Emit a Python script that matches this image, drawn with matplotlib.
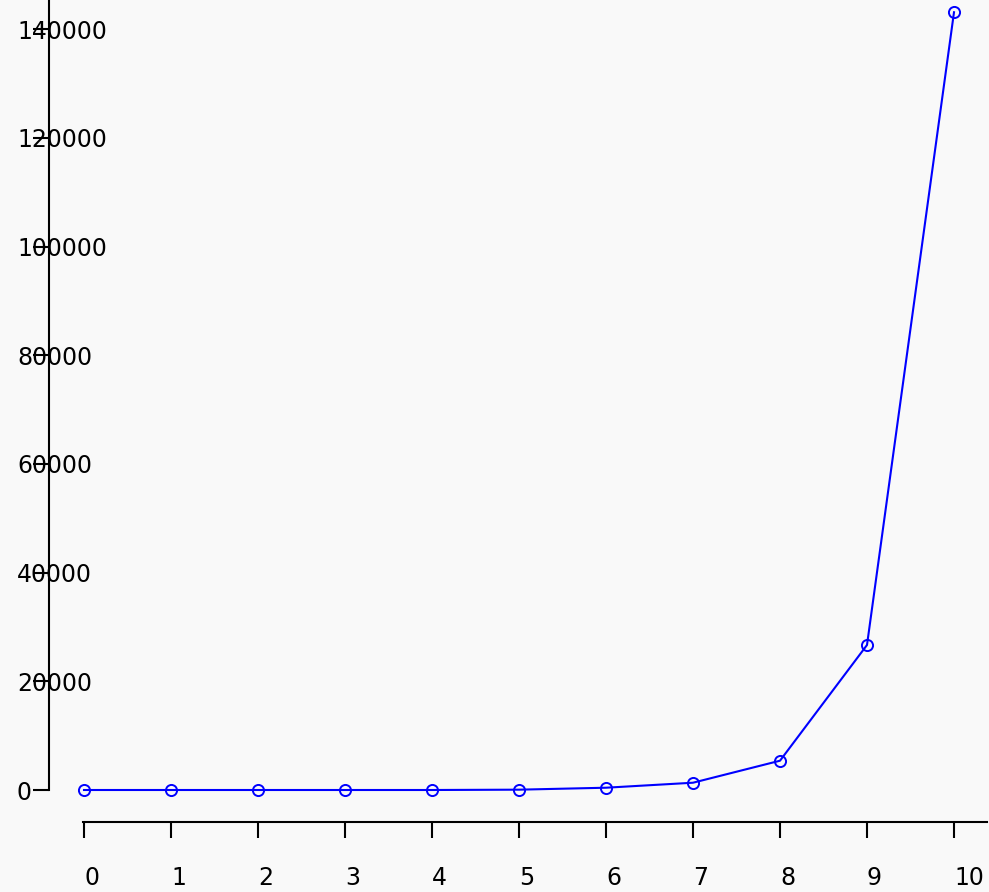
import matplotlib
matplotlib.use("Agg")
import matplotlib.pyplot as plt

plt.rcParams["font.family"] = ["DejaVu Sans"]

# Series values
x_values = [0, 1, 2, 3, 4, 5, 6, 7, 8, 9, 10]
y_values = [0, 0, 0, 0, 0, 60, 420, 1340, 5390, 26680, 143100]

x_ticks = [0, 1, 2, 3, 4, 5, 6, 7, 8, 9, 10]
x_tick_labels = ["0", "1", "2", "3", "4", "5", "6", "7", "8", "9", "10"]
y_ticks = [0, 20000, 40000, 60000, 80000, 100000, 120000, 140000]
y_tick_labels = ["0", "20000", "40000", "60000", "80000", "100000", "120000", "140000"]

W, H, DPI = 989, 892, 100
fig = plt.figure(figsize=(W / DPI, H / DPI), dpi=DPI)
bg = "#f9f9f9"
fig.patch.set_facecolor(bg)
ax = fig.add_axes([0, 0, 1, 1])
ax.set_facecolor(bg)

# pixel geometry of the plotting region
x0_px, px_per_x = 84.0, 87.0
y0_px, px_per_y = 790.0, 108.7 / 20000.0

ax.set_xlim(-x0_px / px_per_x, (W - x0_px) / px_per_x)
ax.set_ylim((y0_px - H) / px_per_y, y0_px / px_per_y)

ax.plot(x_values, y_values, color="#0000ff", linewidth=1.5,
        marker="o", markersize=8, markerfacecolor="none",
        markeredgecolor="#0000ff", markeredgewidth=1.4, clip_on=False, zorder=3)

for s in ("top", "right"):
    ax.spines[s].set_visible(False)

left_x = (49 - x0_px) / px_per_x
bottom_y = (y0_px - 822) / px_per_y
ax.spines["left"].set_position(("data", left_x))
ax.spines["left"].set_bounds(0, y0_px / px_per_y)
ax.spines["bottom"].set_position(("data", bottom_y))
ax.spines["bottom"].set_bounds(-0.01, (987 - x0_px) / px_per_x)
for s in ("left", "bottom"):
    ax.spines[s].set_linewidth(1.5)
    ax.spines[s].set_color("black")

ax.set_xticks(x_ticks)
ax.set_xticklabels(x_tick_labels)
ax.set_yticks(y_ticks)
ax.set_yticklabels(y_tick_labels)

pt = 72.0 / DPI
ax.tick_params(axis="x", direction="out", length=16 * pt, width=1.5,
               pad=28 * pt, labelsize=17, colors="black")
ax.tick_params(axis="y", direction="out", length=16 * pt, width=1.5,
               pad=16 * pt, labelsize=17, colors="black")
for lab in ax.get_yticklabels():
    lab.set_horizontalalignment("left")
    lab.set_verticalalignment("center_baseline")
for lab in ax.get_xticklabels():
    lab.set_horizontalalignment("left")

fig.savefig("out.png", dpi=DPI, facecolor=bg)
